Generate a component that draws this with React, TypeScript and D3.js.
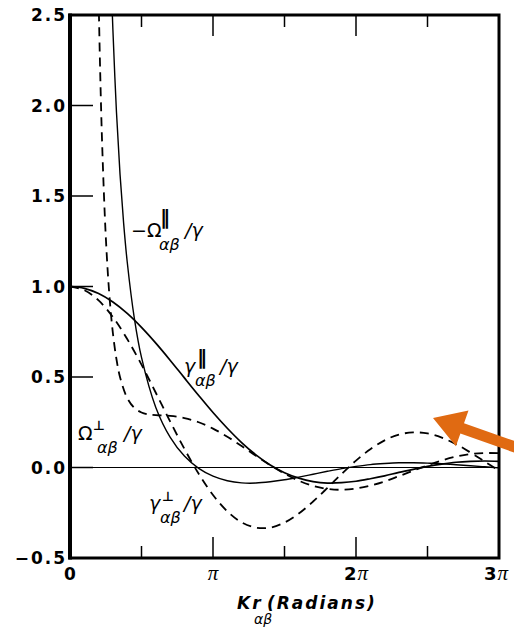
import React from 'react';
import * as d3 from 'd3';

// x values are Kr in units of pi
const U_GAMMA = [0, 0.1, 0.2, 0.3, 0.4, 0.5, 0.6, 0.7, 0.8, 0.9, 1.0, 1.1, 1.2, 1.3, 1.4, 1.5,
  1.6, 1.7, 1.8, 1.9, 2.0, 2.1, 2.2, 2.3, 2.4, 2.5, 2.6, 2.7, 2.8, 2.9, 3.0];

const GAMMA_PERP = [1, 0.980, 0.923, 0.831, 0.710, 0.568, 0.413, 0.255, 0.103, -0.035, -0.152,
  -0.242, -0.303, -0.332, -0.332, -0.304, -0.254, -0.188, -0.113, -0.035, 0.038, 0.101, 0.150,
  0.182, 0.194, 0.188, 0.165, 0.129, 0.083, 0.033, -0.017];

const GAMMA_PAR = [1, 0.990, 0.961, 0.914, 0.851, 0.774, 0.687, 0.593, 0.495, 0.398, 0.304,
  0.217, 0.138, 0.070, 0.014, -0.029, -0.059, -0.078, -0.086, -0.084, -0.076, -0.062, -0.046,
  -0.027, -0.010, 0.006, 0.019, 0.029, 0.034, 0.036, 0.034];

const U_OMEGA_PAR = [0.29, 0.3, 0.325, 0.35, 0.375, 0.4, 0.45, 0.5, 0.6, 0.7, 0.8, 0.9, 1.0, 1.1,
  1.2, 1.3, 1.4, 1.5, 1.6, 1.7, 1.8, 1.9, 2.0, 2.1, 2.2, 2.3, 2.4, 2.5, 2.6, 2.7, 2.8, 2.9, 3.0];

const NEG_OMEGA_PAR = [2.644, 2.419, 1.963, 1.618, 1.350, 1.137, 0.824, 0.608, 0.332, 0.168,
  0.063, -0.005, -0.048, -0.073, -0.085, -0.086, -0.079, -0.068, -0.053, -0.037, -0.021, -0.006,
  0.006, 0.016, 0.022, 0.026, 0.026, 0.024, 0.021, 0.015, 0.010, 0.004, -0.002];

const U_OMEGA_PERP = [0.2, 0.21, 0.225, 0.25, 0.275, 0.3, 0.325, 0.35, 0.4, 0.45, 0.5, 0.55, 0.6,
  0.7, 0.8, 0.9, 1.0, 1.1, 1.2, 1.3, 1.4, 1.5, 1.6, 1.7, 1.8, 1.9, 2.0, 2.1, 2.2, 2.3, 2.4, 2.5,
  2.6, 2.7, 2.8, 2.9, 3.0];

const OMEGA_PERP = [2.597, 2.222, 1.783, 1.279, 0.956, 0.742, 0.598, 0.499, 0.384, 0.329, 0.304,
  0.293, 0.289, 0.285, 0.273, 0.250, 0.215, 0.170, 0.119, 0.065, 0.013, -0.034, -0.073, -0.101,
  -0.118, -0.123, -0.116, -0.100, -0.077, -0.048, -0.018, 0.012, 0.039, 0.060, 0.074, 0.080, 0.079];

const Y_TICKS = [-0.5, 0.0, 0.5, 1.0, 1.5, 2.0, 2.5];
const X_TICKS = [0.5, 1, 1.5, 2, 2.5];
const X_LABELS = [
  { u: 1, num: '' },
  { u: 2, num: '2' },
  { u: 3, num: '3' },
];

const width = 514;
const height = 629;
const left = 70;
const right = 499;
const top = 15;
const bottom = 558;

const x = d3.scaleLinear().domain([0, 3]).range([left, right]);
const y = d3.scaleLinear().domain([-0.5, 2.5]).range([bottom, top]);

const line = d3.line<[number, number]>()
  .x(d => x(d[0]))
  .y(d => y(d[1]))
  .curve(d3.curveCatmullRom);

const zip = (us: number[], vs: number[]) => us.map((u, i) => [u, vs[i]] as [number, number]);

const greek = '"DejaVu Sans", sans-serif';
const tickFont = '"DejaVu Sans", sans-serif';

// symbol with superscript mark, subscript αβ and trailing /γ
function CurveLabel({ x0, base, sym, symItalic, sup, supDx, supDy, supSize, subDx, slashDx }) {
  return (
    <g fontFamily={greek} fill="#000">
      <text x={x0} y={base} fontSize={19} fontStyle={symItalic ? 'italic' : 'normal'}>{sym}</text>
      <text x={x0 + supDx} y={base + supDy} fontSize={supSize} fontWeight="bold">{sup}</text>
      <text x={x0 + subDx} y={base + 13} fontSize={16} fontStyle="italic">αβ</text>
      <text x={x0 + slashDx} y={base} fontSize={19} fontStyle="italic">/γ</text>
    </g>
  );
}

const App = () => {
  const arrow = 'M433,418 L468.5,410.5 L464,423.2 L529.1,446.2 L525.5,456.6 L460.4,433.6 L455.9,446.3 Z';
  return (
    <svg width={width} height={height} style={{ position: 'absolute', left: 0, top: 0, background: '#fff' }}>
      <defs>
        <clipPath id="plot">
          <rect x={left} y={top} width={right - left} height={bottom - top} />
        </clipPath>
      </defs>

      {/* zero line */}
      <line x1={left} x2={right} y1={y(0)} y2={y(0)} stroke="#000" strokeWidth={1.2} />

      <g clipPath="url(#plot)" fill="none" stroke="#000">
        <path d={line(zip(U_GAMMA, GAMMA_PAR))} strokeWidth={1.7} />
        <path d={line(zip(U_GAMMA, GAMMA_PERP))} strokeWidth={1.8} strokeDasharray="9,6" />
        <path d={line(zip(U_OMEGA_PAR, NEG_OMEGA_PAR))} strokeWidth={1.4} />
        <path d={line(zip(U_OMEGA_PERP, OMEGA_PERP))} strokeWidth={1.8} strokeDasharray="9,6" />
      </g>

      {/* ticks */}
      <g stroke="#000" strokeWidth={1.5}>
        {Y_TICKS.slice(1, -1).map(t => (
          <line key={t} x1={left} x2={left + 23} y1={y(t)} y2={y(t)} />
        ))}
        {X_TICKS.map(t => {
          const len = Number.isInteger(t) ? 21 : 12;
          return (
            <g key={t}>
              <line x1={x(t)} x2={x(t)} y1={bottom} y2={bottom - len} />
              <line x1={x(t)} x2={x(t)} y1={top} y2={top + len} />
            </g>
          );
        })}
      </g>

      {/* frame */}
      <rect x={left} y={top} width={right - left} height={bottom - top} fill="none" stroke="#000" strokeWidth={3} />
      <line x1={left} x2={left} y1={top - 1.5} y2={bottom + 1.5} stroke="#000" strokeWidth={4} />

      {/* y tick labels */}
      <g fontFamily={tickFont} fontWeight="bold" fontSize={17} letterSpacing={2} textAnchor="end">
        {Y_TICKS.map(t => (
          <text key={t} x={left - 3} y={y(t)} dy="0.36em">
            {t < 0 ? '−' + Math.abs(t).toFixed(1) : t.toFixed(1)}
          </text>
        ))}
      </g>

      {/* x tick labels */}
      <text x={x(0)} y={580} fontFamily={tickFont} fontWeight="bold" fontSize={17} textAnchor="middle">0</text>
      {X_LABELS.map(d => (
        <text key={d.u} x={x(d.u) - (d.u === 3 ? 3 : 0)} y={580} textAnchor="middle">
          <tspan fontFamily={tickFont} fontWeight="bold" fontSize={18}>{d.num}</tspan>
          <tspan fontFamily='"Liberation Serif", serif' fontStyle="italic" fontSize={21} dx={d.num ? 1 : 0}>π</tspan>
        </text>
      ))}

      {/* axis title */}
      <g fontFamily={tickFont} fontWeight="bold" fontStyle="italic" fontSize={17} letterSpacing={2}>
        <text x={237} y={609}>Kr</text>
        <text x={254} y={624} fontFamily={greek} fontWeight="normal" fontSize={14} letterSpacing={0}>αβ</text>
        <text x={267} y={609}>(Radians)</text>
      </g>

      {/* curve labels */}
      <CurveLabel x0={131} base={237} sym="−Ω" symItalic={false} sup="‖" supDx={29} supDy={-13} supSize={20} subDx={28} slashDx={54} />
      <CurveLabel x0={184} base={373} sym="γ" symItalic={true} sup="‖" supDx={13} supDy={-9} supSize={20} subDx={11} slashDx={36} />
      <CurveLabel x0={78} base={440} sym="Ω" symItalic={false} sup="⊥" supDx={15} supDy={-10} supSize={13} subDx={19} slashDx={46} />
      <CurveLabel x0={149} base={510} sym="γ" symItalic={true} sup="⊥" supDx={13} supDy={-9} supSize={13} subDx={11} slashDx={35} />

      {/* orange arrow */}
      <path d={arrow} fill="#E06A12" />
    </svg>
  );
};

export default App;
